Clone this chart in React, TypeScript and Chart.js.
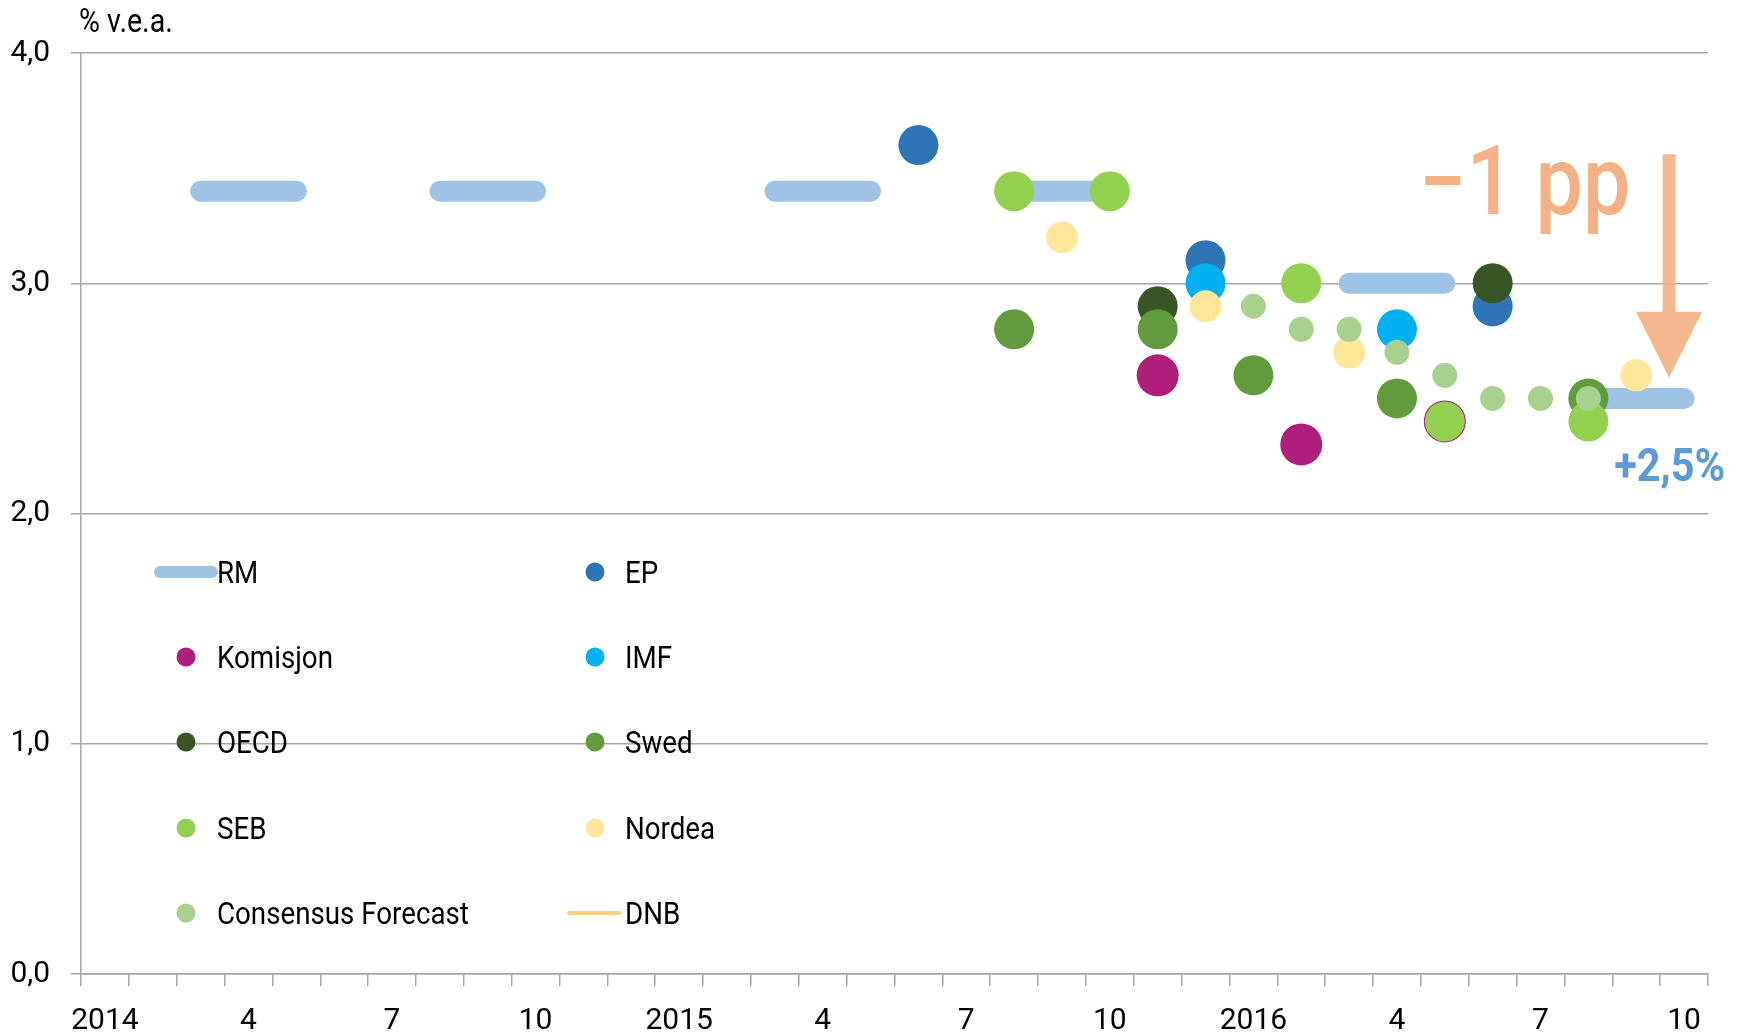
import React, { useEffect, useRef } from "react";
import { Chart, registerables } from "chart.js";

Chart.register(...registerables);

// ---------- DATA ----------
const categories = [
  "2014-01", "2014-02", "2014-03", "2014-04", "2014-05", "2014-06", "2014-07", "2014-08", "2014-09", "2014-10", "2014-11", "2014-12",
  "2015-01", "2015-02", "2015-03", "2015-04", "2015-05", "2015-06", "2015-07", "2015-08", "2015-09", "2015-10", "2015-11", "2015-12",
  "2016-01", "2016-02", "2016-03", "2016-04", "2016-05", "2016-06", "2016-07", "2016-08", "2016-09", "2016-10",
];
const tickLabels = ["2014", "4", "7", "10", "2015", "4", "7", "10", "2016", "4", "7", "10"];
const yTicks = [0, 1, 2, 3, 4];

const rmMonths = [
  "2014-03", "2014-04", "2014-05", "2014-08", "2014-09", "2014-10",
  "2015-03", "2015-04", "2015-05", "2015-08", "2015-09", "2015-10",
  "2016-03", "2016-04", "2016-05", "2016-08", "2016-09", "2016-10",
];
const rmValues = [3.4, 3.4, 3.4, 3.4, 3.4, 3.4, 3.4, 3.4, 3.4, 3.4, 3.4, 3.4, 3.0, 3.0, 3.0, 2.5, 2.5, 2.5];

const epMonths = ["2015-06", "2015-12", "2016-06"];
const epValues = [3.6, 3.1, 2.9];

const komisjonMonths = ["2015-11", "2016-02", "2016-05"];
const komisjonValues = [2.6, 2.3, 2.4];

const imfMonths = ["2015-12", "2016-04"];
const imfValues = [3.0, 2.8];

const oecdMonths = ["2015-11", "2016-06"];
const oecdValues = [2.9, 3.0];

const swedMonths = ["2015-08", "2015-11", "2016-01", "2016-04", "2016-08"];
const swedValues = [2.8, 2.8, 2.6, 2.5, 2.5];

const sebMonths = ["2015-08", "2015-10", "2016-02", "2016-05", "2016-08"];
const sebValues = [3.4, 3.4, 3.0, 2.4, 2.4];

const nordeaMonths = ["2015-09", "2015-12", "2016-03", "2016-09"];
const nordeaValues = [3.2, 2.9, 2.7, 2.6];

const consensusMonths = ["2016-01", "2016-02", "2016-03", "2016-04", "2016-05", "2016-06", "2016-07", "2016-08"];
const consensusValues = [2.9, 2.8, 2.8, 2.7, 2.6, 2.5, 2.5, 2.5];

const dnbMonths: string[] = [];
const dnbValues: number[] = [];

const yTitle = "% v.e.a.";
const dropLabel = "\u22121 pp";
const targetLabel = "+2,5%";
const arrowFrom = 3.56;
const arrowTo = 2.59;

// ---------- STYLE ----------
const TICK_FONT = "Roboto, 'DejaVu Sans Condensed', sans-serif";
const GRID = "#A6A6A6";
const SQUEEZE = 0.88; // emulate a condensed face

const toSeries = (months: string[], values: number[]) =>
  categories.map((c) => {
    const i = months.indexOf(c);
    return i >= 0 ? values[i] : null;
  });

const dot = (label: string, months: string[], values: number[], color: string, r: number, order: number) => ({
  label,
  data: toSeries(months, values),
  showLine: false,
  borderColor: color,
  backgroundColor: color,
  pointBackgroundColor: color,
  pointBorderColor: color,
  pointBorderWidth: 0,
  pointRadius: r,
  pointHoverRadius: r,
  order,
});

const legendLineWidth: Record<string, number> = { RM: 12, DNB: 4 };

function squeezedText(
  ctx: CanvasRenderingContext2D,
  text: string,
  x: number,
  y: number,
  font: string,
  color: string,
  sx: number,
  baseline: CanvasTextBaseline
) {
  ctx.save();
  ctx.translate(x, y);
  ctx.scale(sx, 1);
  ctx.font = font;
  ctx.fillStyle = color;
  ctx.textAlign = "left";
  ctx.textBaseline = baseline;
  ctx.fillText(text, 0, 0);
  ctx.restore();
}

const overlayPlugin = {
  id: "overlay",
  afterDraw(chart: any) {
    const ctx = chart.ctx as CanvasRenderingContext2D;
    const xs = chart.scales.x;
    const ys = chart.scales.y;
    ctx.save();

    // axis title
    squeezedText(ctx, yTitle, 79, 32, "32.5px Roboto", "#000", SQUEEZE, "alphabetic");

    // legend (2 columns x 5 rows)
    const rowY = [572, 657, 742, 828, 913];
    const textX = [217, 625];
    const dotX = [186, 595];
    const lineSpan = [
      [160, 212],
      [569, 619],
    ];
    chart.data.datasets.forEach((ds: any, i: number) => {
      const col = i % 2;
      const row = Math.floor(i / 2);
      const y = rowY[row];
      if (ds.showLine === false) {
        ctx.fillStyle = ds.pointBackgroundColor;
        ctx.beginPath();
        ctx.arc(dotX[col], y, 9.5, 0, Math.PI * 2);
        ctx.fill();
      } else {
        ctx.strokeStyle = ds.borderColor;
        ctx.lineWidth = legendLineWidth[ds.label] || 4;
        ctx.lineCap = "round";
        ctx.beginPath();
        ctx.moveTo(lineSpan[col][0], y);
        ctx.lineTo(lineSpan[col][1], y);
        ctx.stroke();
      }
      squeezedText(ctx, ds.label, textX[col], y + 11, "31.5px Roboto", "#000", SQUEEZE, "alphabetic");
    });

    // arrow
    const ax = xs.getPixelForValue(categories.length - 1) - 15;
    const top = ys.getPixelForValue(arrowFrom);
    const tip = ys.getPixelForValue(arrowTo);
    const headBase = tip - 66;
    ctx.fillStyle = "rgba(244,177,131,0.92)";
    ctx.beginPath();
    ctx.moveTo(ax - 6.5, top);
    ctx.lineTo(ax + 6.5, top);
    ctx.lineTo(ax + 6.5, headBase);
    ctx.lineTo(ax + 33, headBase);
    ctx.lineTo(ax, tip);
    ctx.lineTo(ax - 33, headBase);
    ctx.lineTo(ax - 6.5, headBase);
    ctx.closePath();
    ctx.fill();

    // "-1 pp"
    squeezedText(ctx, dropLabel, ax - 250, ys.getPixelForValue(3.3), "500 96px Roboto", "#F4B183", SQUEEZE, "alphabetic");

    // "+2,5%"
    squeezedText(
      ctx,
      targetLabel,
      xs.getPixelForValue(categories.length - 2) - 22,
      ys.getPixelForValue(2.14),
      "700 46px Roboto",
      "#5B9BD5",
      0.9,
      "alphabetic"
    );

    ctx.restore();
  },
};

export default function App() {
  const ref = useRef<HTMLCanvasElement | null>(null);

  useEffect(() => {
    if (!ref.current) return;
    const chart = new Chart(ref.current, {
      type: "line",
      data: {
        labels: categories,
        datasets: [
          {
            label: "RM",
            data: toSeries(rmMonths, rmValues),
            borderColor: "#9DC3E6",
            backgroundColor: "#9DC3E6",
            borderWidth: 21,
            borderCapStyle: "round",
            borderJoinStyle: "round",
            pointRadius: 0,
            pointHoverRadius: 0,
            spanGaps: false,
            tension: 0,
            order: 10,
          } as any,
          dot("EP", epMonths, epValues, "#2E75B6", 20, 9),
          dot("Komisjon", komisjonMonths, komisjonValues, "#B01E7C", 21, 8),
          dot("IMF", imfMonths, imfValues, "#00B0F0", 20, 7),
          dot("OECD", oecdMonths, oecdValues, "#375623", 20, 6),
          dot("Swed", swedMonths, swedValues, "#629A3E", 20, 5),
          dot("SEB", sebMonths, sebValues, "#92D050", 20, 4),
          dot("Nordea", nordeaMonths, nordeaValues, "#FFE699", 16, 3),
          dot("Consensus Forecast", consensusMonths, consensusValues, "#A9D18E", 12.5, 2),
          {
            label: "DNB",
            data: toSeries(dnbMonths, dnbValues),
            borderColor: "#FFD080",
            backgroundColor: "#FFD080",
            borderWidth: 4,
            pointRadius: 0,
            order: 1,
          } as any,
        ],
      },
      options: {
        animation: false,
        responsive: false,
        devicePixelRatio: 1,
        events: [],
        layout: { padding: { left: 0, top: 53, right: 36, bottom: 0 } },
        plugins: { legend: { display: false }, tooltip: { enabled: false } },
        scales: {
          x: {
            type: "category",
            offset: true,
            grid: {
              offset: true,
              drawOnChartArea: false,
              drawTicks: true,
              tickLength: 12,
              color: GRID,
              lineWidth: 1.5,
            },
            border: { display: true, color: GRID, width: 1.5 },
            ticks: {
              autoSkip: false,
              maxRotation: 0,
              minRotation: 0,
              padding: 17,
              color: "#000",
              font: { family: TICK_FONT, size: 30 },
              callback: (_v: any, i: number) => (i % 3 === 0 ? tickLabels[i / 3] : ""),
            },
            afterFit: (s: any) => {
              s.height = 62;
            },
          },
          y: {
            min: yTicks[0],
            max: yTicks[yTicks.length - 1],
            afterBuildTicks: (s: any) => {
              s.ticks = yTicks.map((v) => ({ value: v }));
            },
            grid: { color: GRID, lineWidth: 1.5, tickLength: 10, drawTicks: true },
            border: { display: true, color: GRID, width: 1.5 },
            ticks: {
              padding: 21,
              color: "#000",
              font: { family: TICK_FONT, size: 30 },
              callback: (v: any) => Number(v).toFixed(1).replace(".", ","),
            },
            afterFit: (s: any) => {
              s.width = 81;
            },
          },
        },
      } as any,
      plugins: [overlayPlugin],
    });
    return () => chart.destroy();
  }, []);

  return (
    <div style={{ position: "absolute", left: 0, top: 0, width: 1744, height: 1036, background: "#fff" }}>
      <canvas ref={ref} width={1744} height={1036} style={{ display: "block", width: 1744, height: 1036 }} />
    </div>
  );
}
